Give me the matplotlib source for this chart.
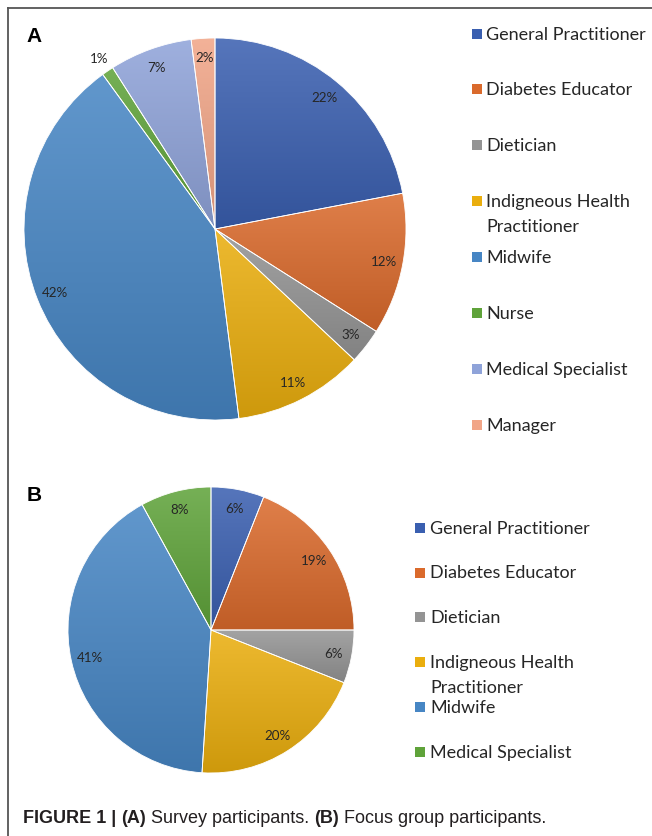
import numpy as np
import matplotlib
matplotlib.use("Agg")
import matplotlib.pyplot as plt
import matplotlib.colors as mcolors
from matplotlib.patches import Rectangle
from matplotlib.lines import Line2D

# ---------------- data ----------------
cats_a = ["General Practitioner", "Diabetes Educator", "Dietician",
          "Indigneous Health\nPractitioner", "Midwife", "Nurse",
          "Medical Specialist", "Manager"]
vals_a = [22, 12, 3, 11, 42, 1, 7, 2]
cols_a = ["#3A5FB0", "#DA6A2C", "#949494", "#EAAE0E", "#4786C4",
          "#5FA33A", "#8FA3D9", "#F1A587"]

cats_b = ["General Practitioner", "Diabetes Educator", "Dietician",
          "Indigneous Health\nPractitioner", "Midwife", "Medical Specialist"]
vals_b = [6, 19, 6, 20, 41, 8]
cols_b = ["#3A5FB0", "#DA6A2C", "#949494", "#EAAE0E", "#4786C4", "#5FA33A"]

caption_parts = [("FIGURE 1 | ", "bold"), ("(A)", "bold"),
                 (" Survey participants. ", "normal"), ("(B)", "bold"),
                 (" Focus group participants.", "normal")]

W, H = 652, 837
fig = plt.figure(figsize=(W / 100, H / 100), dpi=100)
fig.patch.set_facecolor("white")

PCT_FONT = "Lato"
LEG_FONT = "Lato"


def shade(c, f):
    c = np.array(mcolors.to_rgb(c))
    if f > 0:
        return c + (1 - c) * f
    return c * (1 + f)


def make_pie(cx, cy, r, vals, cols, pctdist, outside):
    ax = fig.add_axes([(cx - r) / W, (H - cy - r) / H, 2 * r / W, 2 * r / H])
    wedges, _ = ax.pie(vals, colors=cols, startangle=90, counterclock=False,
                       radius=1.0,
                       wedgeprops=dict(edgecolor="white", linewidth=0.6))
    for w, col in zip(wedges, cols):
        w.set_facecolor("none")
        w.set_zorder(3)
        ext = w.get_path().get_extents()
        top, bot = shade(col, 0.14), shade(col, -0.12)
        t = np.linspace(0, 1, 64)[:, None]
        grad = (top[None, :] * (1 - t) + bot[None, :] * t)[:, None, :]
        im = ax.imshow(grad, extent=[ext.x0, ext.x1, ext.y0, ext.y1],
                       origin="upper", interpolation="bilinear", aspect="auto",
                       zorder=2)
        im.set_clip_path(w)
    for i, (w, v) in enumerate(zip(wedges, vals)):
        ang = np.deg2rad((w.theta1 + w.theta2) / 2)
        d = outside.get(i, pctdist)
        ax.text(d * np.cos(ang), d * np.sin(ang), f"{v}%", ha="center",
                va="center", fontsize=9.6, family=PCT_FONT, color="#262626",
                zorder=5)
    ax.set_xlim(-1, 1)
    ax.set_ylim(-1, 1)
    ax.set_aspect("equal")
    ax.axis("off")
    return ax


make_pie(215, 230, 191, vals_a, cols_a, 0.90, {5: 1.08})
make_pie(211, 631, 143, vals_b, cols_b, 0.87, {})


def legend(x_sq, x_txt, y0, dy, cats, cols, sq=10, fs=13):
    y = y0
    for c, col in zip(cats, cols):
        fig.patches.append(Rectangle(((x_sq) / W, (H - y - sq / 2) / H),
                                     sq / W, sq / H, transform=fig.transFigure,
                                     facecolor=col, edgecolor="none"))
        lines = c.split("\n")
        fig.text(x_txt / W, (H - y) / H, lines[0], ha="left", va="center",
                 fontsize=fs, family=LEG_FONT, color="#262626")
        if len(lines) > 1:
            fig.text(x_txt / W, (H - y - 24.5) / H, lines[1], ha="left",
                     va="center", fontsize=fs, family=LEG_FONT,
                     color="#262626")
        y += dy


legend(471.5, 486.5, 34.5, 55.9, cats_a, cols_a)
legend(414.5, 430, 528.7, 44.8, cats_b, cols_b)

# panel letters
fig.text(26.5 / W, (H - 36) / H, "A", ha="left", va="center", fontsize=15,
         fontweight="bold", family="Liberation Sans")
fig.text(26.5 / W, (H - 496) / H, "B", ha="left", va="center", fontsize=15,
         fontweight="bold", family="Liberation Sans")

# frame
fig.add_artist(Line2D([8 / W, 8 / W], [0, (H - 9) / H], color="#555555",
                      linewidth=1.3, transform=fig.transFigure))
fig.add_artist(Line2D([8 / W, 1], [(H - 9) / H, (H - 9) / H],
                      color="#555555", linewidth=1.3,
                      transform=fig.transFigure))

# caption
fig.canvas.draw()
renderer = fig.canvas.get_renderer()
x = 23.0
for txt, wt in caption_parts:
    t = fig.text(x / W, (H - 819) / H, txt, ha="left", va="center",
                 fontsize=13, fontweight=wt, family="Liberation Sans",
                 color="#231f20")
    bb = t.get_window_extent(renderer=renderer)
    x += bb.width

fig.savefig("out.png", dpi=100)
